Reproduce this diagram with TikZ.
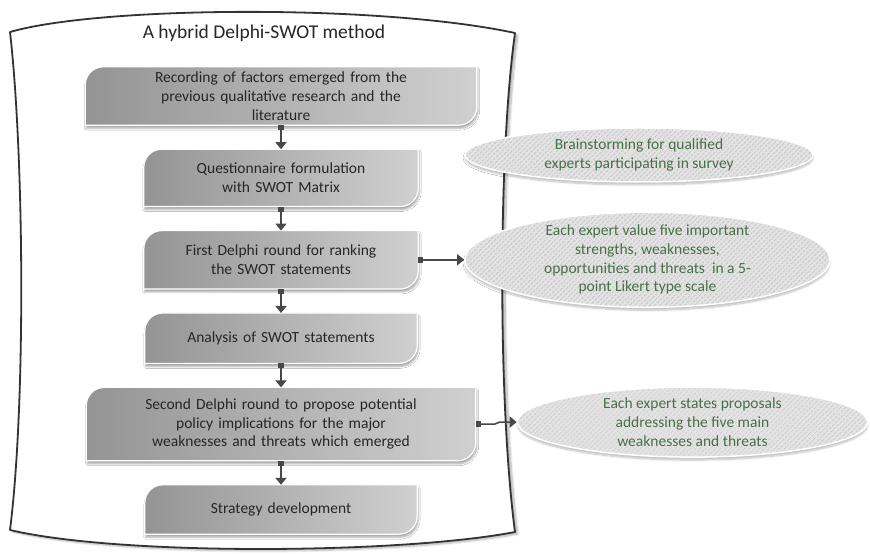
\documentclass[tikz,border=0pt]{standalone}
\usepackage{fontspec}
\setmainfont{Carlito}
\usepackage{tikz}
\usetikzlibrary{arrows.meta,positioning,shapes.geometric,patterns.meta,backgrounds,shadows.blur}

\definecolor{boxdark}{RGB}{148,148,148}
\definecolor{boxlight}{RGB}{208,208,208}
\definecolor{ink}{RGB}{38,38,38}
\definecolor{leaf}{RGB}{72,112,72}
\definecolor{hatchbg}{RGB}{226,226,226}
\definecolor{hatchline}{RGB}{200,200,200}
\definecolor{wire}{RGB}{72,72,72}

\tikzset{
  stage/.style={inner sep=0pt, align=center, text=ink,
    font=\fontsize{15.5bp}{18.7bp}\selectfont},
  stagebox/.style={draw=white, line width=1.2bp, left color=boxdark, right color=boxlight,
    blur shadow={shadow xshift=1bp, shadow yshift=-3bp, shadow blur steps=6, shadow opacity=35}},
  idea/.style={ellipse, inner sep=0pt, align=center, text=leaf, draw=white, line width=1.5bp,
    font=\fontsize{15.5bp}{18.7bp}\selectfont,
    blur shadow={shadow xshift=0bp, shadow yshift=-3bp, shadow blur steps=6, shadow opacity=25},
    preaction={fill=hatchbg},
    pattern={Lines[angle=45,distance=3.6bp,line width=1bp]}, pattern color=hatchline},
  flow/.style={draw=wire, line width=1.6bp, {Square[length=5bp,width=6bp]}-{Triangle[length=7bp,width=11bp]}},
  frame/.style={draw=black!80, line width=1.8bp, fill=white, line join=round,
    blur shadow={shadow xshift=3bp, shadow yshift=-2bp, shadow blur steps=8, shadow opacity=30}}
}

\begin{document}
\begin{tikzpicture}[x=1bp,y=1bp,node distance=24bp]
  \useasboundingbox (0,0) rectangle (870,554);

  % method steps
  \node[stage, font=\fontsize{19.5bp}{22bp}\selectfont] (title) at (264,521) {A hybrid Delphi-SWOT method};
  \node[stage, text width=391bp, minimum height=58bp] (q1) at (281,458)
    {Recording of factors emerged from the\\previous qualitative research and the\\literature};
  \node[stage, text width=274bp, minimum height=57bp, below=of q1] (q2)
    {Questionnaire formulation\\with SWOT Matrix};
  \node[stage, text width=274bp, minimum height=58bp, below=of q2] (q3)
    {First Delphi round for ranking\\the SWOT statements};
  \node[stage, text width=272bp, minimum height=50bp, below=of q3] (q4)
    {Analysis of SWOT statements};
  \node[stage, text width=389bp, minimum height=73bp, below=of q4] (q5)
    {Second Delphi round to propose potential\\policy implications for the major\\weaknesses and threats which emerged};
  \node[stage, text width=272bp, minimum height=49bp, below=of q5] (q6)
    {Strategy development};

  % side notes
  \node[idea, minimum width=348bp, minimum height=54bp] (e1) at (639,399)
    {Brainstorming for qualified\\experts participating in survey};
  \node[idea, minimum width=365bp, minimum height=95bp, inner ysep=-2bp, right=46bp of q3] (e2)
    {Each expert value five important\\strengths, weaknesses,\\opportunities and threats\ \ in a 5-\\point Likert type scale};
  \node[idea, minimum width=350bp, minimum height=70bp, right=41bp of q5, yshift=2bp] (e3)
    {Each expert states proposals\\addressing the five main\\weaknesses and threats};

  \begin{scope}[on background layer]
    \path[frame] (10,522) .. controls (100,548) and (380,550) .. (515,521)
      .. controls (498,400) and (498,150) .. (515,22)
      .. controls (400,0) and (120,-2) .. (10,24)
      .. controls (26,150) and (24,400) .. (10,522) -- cycle;
    \foreach \n in {1,...,6}
      \path[stagebox] (q\n.south west) -- ([yshift=-18bp]q\n.north west)
        arc[start angle=180, end angle=90, radius=18bp] -- (q\n.north east)
        -- ([yshift=18bp]q\n.south east)
        arc[start angle=0, end angle=-90, radius=18bp] -- cycle;
  \end{scope}

  \path (q1) edge[flow] (q2)
        (q2) edge[flow] (q3)
        (q3) edge[flow] (q4)
             edge[flow] (e2)
        (q4) edge[flow] (q5)
        (q5) edge[flow] (q6);
  \draw[flow] (q5.east) -- ++(19bp,0) to[out=0,in=180] ++(5bp,2bp) -- (e3.west);
\end{tikzpicture}
\end{document}
